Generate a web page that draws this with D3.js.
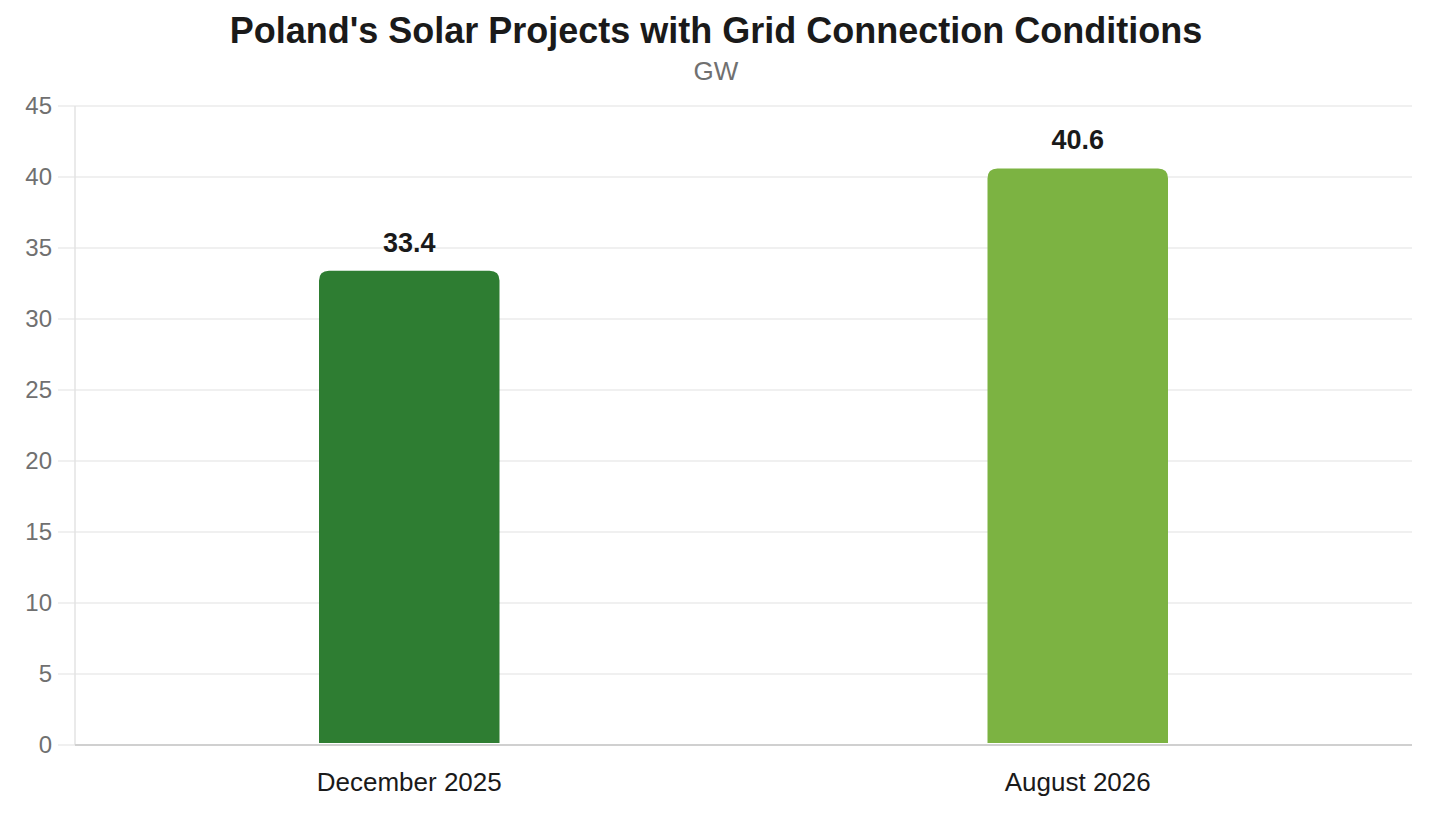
<!DOCTYPE html>
<html>
<head>
<meta charset="utf-8">
<script src="https://cdn.jsdelivr.net/npm/d3@7"></script>
<style>
  body { margin: 0; background: #fff; }
  svg { display: block; font-family: "Liberation Sans", Arial, sans-serif; }
</style>
</head>
<body>
<div id="chart"></div>
<script>
const categories = ['December 2025', 'August 2026'];
const values = [33.4, 40.6];
const colors = ['#2e7d32', '#7cb342'];
const yTicks = [0, 5, 10, 15, 20, 25, 30, 35, 40, 45];

const W = 1440, H = 840;
const MARGIN = { top: 106, right: 28, bottom: 95, left: 75 };
const innerW = W - MARGIN.left - MARGIN.right;
const innerH = H - MARGIN.top - MARGIN.bottom;

const svg = d3.select('#chart').append('svg')
  .attr('width', W)
  .attr('height', H);

svg.append('text')
  .attr('x', 716).attr('y', 43)
  .attr('text-anchor', 'middle')
  .style('font-size', '36px').style('font-weight', 'bold').style('fill', '#1a1a1a')
  .text("Poland's Solar Projects with Grid Connection Conditions");

svg.append('text')
  .attr('x', 716).attr('y', 80)
  .attr('text-anchor', 'middle')
  .style('font-size', '26px').style('fill', '#707070')
  .text('GW');

const g = svg.append('g').attr('transform', `translate(${MARGIN.left},${MARGIN.top})`);

const x = d3.scaleBand().domain(categories).range([0, innerW]).padding(0);
const y = d3.scaleLinear().domain([0, 45]).range([innerH, 0]);

// Grid lines
g.append('g')
  .selectAll('line')
  .data(yTicks)
  .join('line')
  .attr('x1', -17).attr('x2', innerW)
  .attr('y1', d => y(d)).attr('y2', d => y(d))
  .attr('stroke', '#ebebeb').attr('stroke-width', 1.5);

// Y axis line
g.append('line')
  .attr('x1', 0).attr('x2', 0).attr('y1', 0).attr('y2', innerH)
  .attr('stroke', '#e3e3e3').attr('stroke-width', 1.5);

// Y tick labels
g.append('g')
  .selectAll('text')
  .data(yTicks)
  .join('text')
  .attr('x', -23).attr('y', d => y(d))
  .attr('dy', '0.35em')
  .attr('text-anchor', 'end')
  .style('font-size', '24px').style('fill', '#707070')
  .text(d => d);

// Bars with rounded tops
const barW = x.bandwidth() * 0.27;
const r = 10;
function barPath(x0, y0, w, h) {
  const rr = Math.min(r, h);
  return `M${x0},${y0 + h}V${y0 + rr}Q${x0},${y0} ${x0 + rr},${y0}H${x0 + w - rr}Q${x0 + w},${y0} ${x0 + w},${y0 + rr}V${y0 + h}Z`;
}

g.append('g')
  .selectAll('path')
  .data(categories)
  .join('path')
  .attr('d', (d, i) => {
    const cx = x(d) + x.bandwidth() / 2;
    return barPath(cx - barW / 2, y(values[i]), barW, innerH - 2 - y(values[i]));
  })
  .attr('fill', (d, i) => colors[i]);

// Value labels
g.append('g')
  .selectAll('text')
  .data(categories)
  .join('text')
  .attr('x', d => x(d) + x.bandwidth() / 2)
  .attr('y', (d, i) => y(values[i]) - 19)
  .attr('text-anchor', 'middle')
  .style('font-size', '27px').style('font-weight', 'bold').style('fill', '#1a1a1a')
  .text((d, i) => values[i].toFixed(1));

// X baseline
g.append('line')
  .attr('x1', 0).attr('x2', innerW).attr('y1', innerH).attr('y2', innerH)
  .attr('stroke', '#d0d0d0').attr('stroke-width', 2);

// X labels
g.append('g')
  .selectAll('text')
  .data(categories)
  .join('text')
  .attr('x', d => x(d) + x.bandwidth() / 2)
  .attr('y', innerH + 46)
  .attr('text-anchor', 'middle')
  .style('font-size', '26px').style('fill', '#1a1a1a')
  .text(d => d);
</script>
</body>
</html>
